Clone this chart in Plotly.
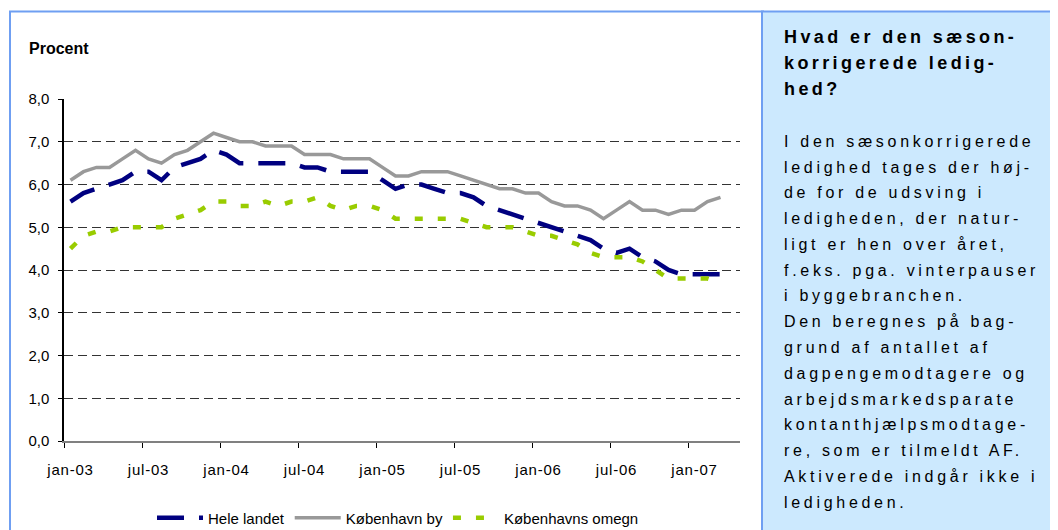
import plotly.graph_objects as go

# Sæsonkorrigeret ledighed, procent, jan-03 .. mar-07 (one value per month)
hele_landet = [5.6, 5.8, 5.9, 6.0, 6.1, 6.3, 6.3, 6.1, 6.4, 6.5, 6.6, 6.8,
               6.7, 6.5, 6.5, 6.5, 6.5, 6.5, 6.4, 6.4, 6.3, 6.3, 6.3, 6.3,
               6.1, 5.9, 6.0, 6.0, 5.9, 5.8, 5.8, 5.7, 5.5, 5.4, 5.3, 5.2,
               5.1, 5.0, 4.9, 4.8, 4.7, 4.5, 4.4, 4.5, 4.3, 4.2, 4.0, 3.9,
               3.9, 3.9, 3.9]
koebenhavn_by = [6.1, 6.3, 6.4, 6.4, 6.6, 6.8, 6.6, 6.5, 6.7, 6.8, 7.0, 7.2,
                 7.1, 7.0, 7.0, 6.9, 6.9, 6.9, 6.7, 6.7, 6.7, 6.6, 6.6, 6.6,
                 6.4, 6.2, 6.2, 6.3, 6.3, 6.3, 6.2, 6.1, 6.0, 5.9, 5.9, 5.8,
                 5.8, 5.6, 5.5, 5.5, 5.4, 5.2, 5.4, 5.6, 5.4, 5.4, 5.3, 5.4,
                 5.4, 5.6, 5.7]
koebenhavns_omegn = [4.5, 4.8, 4.9, 4.9, 5.0, 5.0, 5.0, 5.0, 5.2, 5.3, 5.4, 5.6,
                     5.6, 5.5, 5.5, 5.6, 5.5, 5.6, 5.6, 5.7, 5.5, 5.4, 5.5, 5.5,
                     5.4, 5.2, 5.2, 5.2, 5.2, 5.2, 5.2, 5.1, 5.0, 5.0, 5.0, 4.9,
                     4.8, 4.8, 4.7, 4.6, 4.4, 4.3, 4.3, 4.3, 4.2, 4.0, 3.8, 3.8,
                     3.8, 3.8, 3.7]
tick_labels = ["jan-03", "jul-03", "jan-04", "jul-04", "jan-05",
               "jul-05", "jan-06", "jul-06", "jan-07"]
y_ticks = [0, 1, 2, 3, 4, 5, 6, 7, 8]
n_categories = 52  # axis runs to apr-07

box_title = ["Hvad er den sæson-", "korrigerede ledig-", "hed?"]
box_text = ["I den sæsonkorrigerede", "ledighed tages der høj-",
            "de for de udsving i", "ledigheden, der natur-",
            "ligt er hen over året,", "f.eks. pga. vinterpauser",
            "i byggebranchen.", "Den beregnes på bag-",
            "grund af antallet af", "dagpengemodtagere og",
            "arbejdsmarkedsparate", "kontanthjælpsmodtage-",
            "re, som er tilmeldt AF.", "Aktiverede indgår ikke i",
            "ledigheden."]

x = list(range(len(hele_landet)))

# the page body has an 8px margin, so the figure starts at (8, 8) on the page
OFF = 8
W, H = 1058 - OFF, 530 - OFF
# plot area in page pixels
L, R, T, B = 64, 740, 98.6, 441


def px_x(p):
    return (p - L) / (R - L)


def px_y(p):
    return (B - p) / (B - T)


FONT = "Liberation Sans, Arial, sans-serif"

fig = go.Figure()
fig.add_trace(go.Scatter(x=x, y=hele_landet, name="Hele landet", mode="lines",
                         line=dict(color="#000080", width=4.5, dash="27px,15px")))
fig.add_trace(go.Scatter(x=x, y=koebenhavn_by, name="København by", mode="lines",
                         line=dict(color="#999999", width=3.5)))
fig.add_trace(go.Scatter(x=x, y=koebenhavns_omegn, name="Københavns omegn", mode="lines",
                         line=dict(color="#99cc00", width=4.5, dash="8px,15px")))

# frame and info panel
shapes = [
    dict(type="rect", xref="paper", yref="paper",
         x0=px_x(10), x1=px_x(763), y0=px_y(545), y1=px_y(11),
         line=dict(color="#6f9ff2", width=2), fillcolor="rgba(0,0,0,0)", layer="below"),
    dict(type="rect", xref="paper", yref="paper",
         x0=px_x(762), x1=px_x(1065), y0=px_y(545), y1=px_y(11),
         line=dict(color="#6f9ff2", width=2), fillcolor="#cce9fe", layer="below"),
]

annotations = [
    dict(text="<b>Procent</b>", xref="paper", yref="paper", x=px_x(27), y=px_y(48),
         xanchor="left", yanchor="middle", showarrow=False,
         font=dict(family=FONT, size=16, color="black")),
]
for k, line in enumerate(box_title):
    annotations.append(dict(
        text=f"<b><span style='letter-spacing:3.4px'>{line}</span></b>",
        xref="paper", yref="paper", x=px_x(782), y=px_y(37 + 25.8 * k),
        xanchor="left", yanchor="middle", showarrow=False,
        font=dict(family=FONT, size=18, color="black")))
for k, line in enumerate(box_text):
    annotations.append(dict(
        text=f"<span style='letter-spacing:3.7px'>{line}</span>",
        xref="paper", yref="paper", x=px_x(782), y=px_y(141 + 25.8 * k),
        xanchor="left", yanchor="middle", showarrow=False,
        font=dict(family=FONT, size=16, color="black")))

fig.update_layout(
    width=W, height=H, autosize=False,
    margin=dict(l=L - OFF, r=W - (R - OFF), t=T - OFF, b=H - (B - OFF), pad=0),
    paper_bgcolor="white", plot_bgcolor="white",
    font=dict(family=FONT, size=15, color="black"),
    showlegend=True,
    legend=dict(orientation="h", xref="paper", x=px_x(152), yref="container",
                y=1 - (518 - OFF) / H, xanchor="left", yanchor="middle",
                font=dict(family=FONT, size=15, color="black"),
                bgcolor="rgba(0,0,0,0)", itemwidth=46, tracegroupgap=0),
    shapes=shapes,
    annotations=annotations,
)

fig.update_xaxes(
    range=[-0.5, n_categories - 0.5], showgrid=False, zeroline=False,
    showline=True, linecolor="#808080", linewidth=1.5,
    tickmode="array", tickvals=[6 * k for k in range(len(tick_labels))],
    ticktext=[f"<span style='letter-spacing:0.8px'>{t}</span>" for t in tick_labels],
    ticks="", ticklabelstandoff=14,
    tickfont=dict(family=FONT, size=15, color="black"),
    minor=dict(tickmode="array", tickvals=[6 * k - 0.5 for k in range(len(tick_labels))],
               ticks="outside", ticklen=5, tickcolor="black", tickwidth=1),
    fixedrange=True,
)
fig.update_yaxes(
    range=[0, 8], zeroline=False,
    tickmode="array", tickvals=y_ticks,
    ticktext=[f"<span style='letter-spacing:1.5px'>{v:.1f}</span>".replace(".", ",") for v in y_ticks],
    showline=True, linecolor="black", linewidth=1.5,
    showgrid=True, gridcolor="#333333", gridwidth=1, griddash="9px,5px",
    ticks="outside", ticklen=4, tickcolor="black", ticklabelstandoff=6,
    tickfont=dict(family=FONT, size=15, color="black"),
    fixedrange=True,
)

fig.write_html("out.html")
